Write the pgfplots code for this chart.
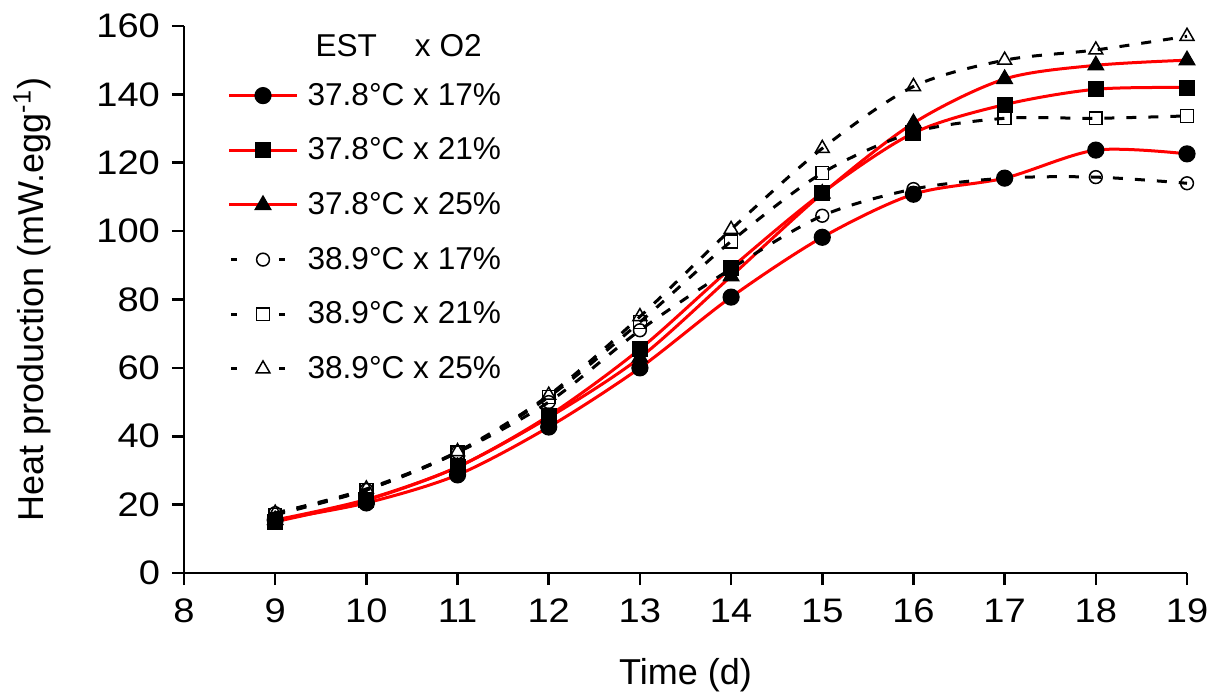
\documentclass[border=0pt]{standalone}
\usepackage{pgfplots}
\pgfplotsset{compat=1.18}
\usepackage{fontspec}
\setmainfont{Liberation Sans}
\definecolor{myred}{RGB}{255,0,0}
\begin{document}
\begin{tikzpicture}
\begin{axis}[
  name=ax,
  scale only axis, width=501.5pt, height=273.5pt,
  xmin=8, xmax=19, ymin=0, ymax=160,
  axis x line*=bottom, axis y line*=left,
  xtick={8,...,19}, ytick={0,20,...,160},
  tick align=outside, major tick length=6pt,
  axis line style={line width=1.3pt},
  every tick/.style={black, line width=1.3pt},
  tick label style={font=\fontsize{17}{20}\selectfont},
  xticklabel style={yshift=-3.5pt},
  yticklabel style={xshift=-2.5pt},
  xticklabel={\scalebox{1.12}[1]{\pgfmathprintnumber{\tick}}},
  yticklabel={\scalebox{1.12}[1]{\pgfmathprintnumber{\tick}}},
  /pgf/number format/assume math mode=true,
  xlabel={Time (d)},
  ylabel={Heat production (mW.egg\textsuperscript{-1})},
  label style={font=\fontsize{18}{21}\selectfont},
  xlabel style={yshift=-11pt},
  ylabel style={yshift=16pt},
  clip=false,
  legend style={draw=none, fill=none, at={(rel axis cs:0.037,1.0)}, anchor=north west,
    yshift=3pt,
    font=\fontsize{15.8}{19}\selectfont, row sep=10.8pt,
    /tikz/every odd column/.style={column sep=2.5pt}},
  legend cell align=left,
  legend image code/.code={
    \draw[mark repeat=2,mark phase=2,#1] plot coordinates {(0pt,0pt) (17pt,0pt) (34pt,0pt)};
  },
  redline/.style={myred, line width=1.5pt, smooth, mark options={solid, fill=black, draw=black, line width=0.6pt}},
  blkline/.style={black, line width=1.5pt, dash pattern=on 5pt off 6pt, smooth,
    mark options={solid, fill=white, draw=black, line width=0.75pt},
    legend image code/.code={
      \draw[mark repeat=2,mark phase=2,##1, dash pattern=on 3pt off 21pt] plot coordinates {(1pt,0pt) (17pt,0pt) (34pt,0pt)};
    }},
]
\addlegendimage{empty legend}
\addlegendentry{\raisebox{-3pt}[\height][0pt]{\hspace{4pt}EST\hspace{19pt}x O2}}

\addplot[redline, mark=*, mark size=4pt] coordinates {
(9,15.5) (10,20.5) (11,28.7) (12,42.7) (13,60) (14,80.7) (15,98.2) (16,110.8) (17,115.5) (18,123.7) (19,122.6)};
\addlegendentry{37.8°C x 17\%}
\addplot[redline, mark=square*, mark size=3.7pt] coordinates {
(9,15) (10,21.3) (11,31) (12,46) (13,65.5) (14,89.2) (15,111.2) (16,128.7) (17,137) (18,141.5) (19,142)};
\addlegendentry{37.8°C x 21\%}
\addplot[redline, mark=triangle*, mark size=4.5pt] coordinates {
(9,15.5) (10,21.5) (11,31) (12,45.5) (13,63) (14,86.8) (15,111) (16,131.6) (17,144.5) (18,148.5) (19,150)};
\addlegendentry{37.8°C x 25\%}
\addplot[blkline, mark=o, mark size=3.2pt] coordinates {
(9,17.5) (10,24.3) (11,35.3) (12,50) (13,71) (14,89) (15,104.5) (16,112.3) (17,115.5) (18,115.8) (19,114)};
\addlegendentry{38.9°C x 17\%}
\addplot[blkline, mark=square, mark size=3.2pt] coordinates {
(9,17) (10,24.3) (11,35.3) (12,51.5) (13,73.4) (14,97) (15,117) (16,128.9) (17,133) (18,133) (19,133.7)};
\addlegendentry{38.9°C x 21\%}
\addplot[blkline, mark=triangle, mark size=4pt] coordinates {
(9,17.5) (10,24.6) (11,35.5) (12,52) (13,75) (14,100.5) (15,124.2) (16,142.3) (17,150) (18,153) (19,157)};
\addlegendentry{38.9°C x 25\%}
\end{axis}
\pgfresetboundingbox
\path ([shift={(-92pt,-59.5pt)}]ax.south west) rectangle ([shift={(10.5pt,13pt)}]ax.north east);
\end{tikzpicture}
\end{document}
